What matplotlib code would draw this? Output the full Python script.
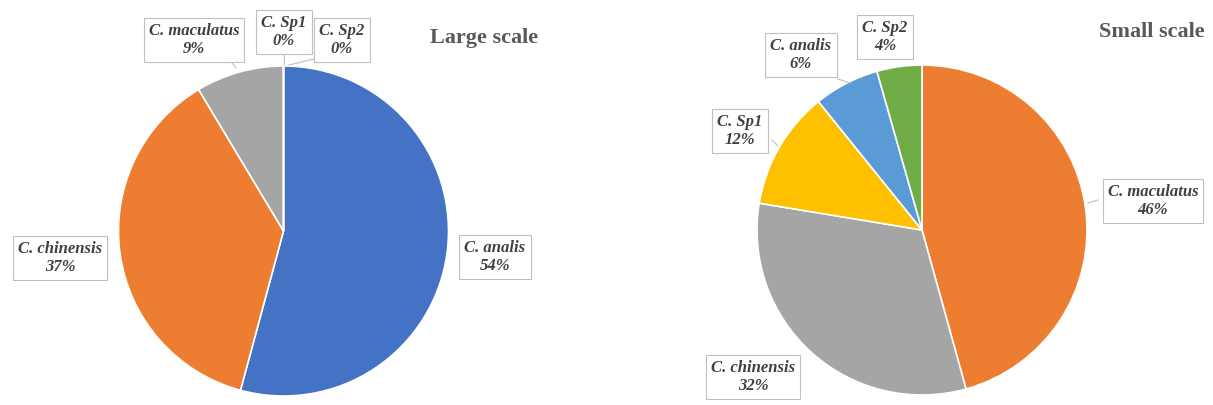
import matplotlib
matplotlib.use("Agg")
import matplotlib.pyplot as plt

# ---- data ----
large_labels = ["C. analis", "C. chinensis", "C. maculatus", "C. Sp1", "C. Sp2"]
large_values = [54.2, 37.2, 8.6, 0.0, 0.0]
large_colors = ["#4472C4", "#ED7D31", "#A5A5A5", "#FFC000", "#5B9BD5"]

small_labels = ["C. maculatus", "C. chinensis", "C. Sp1", "C. analis", "C. Sp2"]
small_values = [45.7, 31.9, 11.6, 6.4, 4.4]
small_colors = ["#ED7D31", "#A5A5A5", "#FFC000", "#5B9BD5", "#70AD47"]

titles = ["Large scale", "Small scale"]

W, H = 1213, 405
fig = plt.figure(figsize=(W / 100, H / 100), dpi=100)
ax = fig.add_axes([0, 0, 1, 1])

def Y(y):
    return H - y

# layout (pixel positions)
large_center = (283.5, 231)
small_center = (922, 230)
radius = 165
large_label_pos = [(495, 257), (60, 258), (194, 40), (284, 32), (342, 40)]
small_label_pos = [(1153, 201), (753, 377), (740, 131), (801, 55), (885, 37)]
large_leaders = [None, None, ((232, 63), (236, 68)), ((284, 53), (284, 64)), ((318, 58), (289, 65))]
small_leaders = [((1098, 200), (1088, 203)), None, ((772, 140), (778, 146)), ((838, 79), (850, 83)), None]
title_pos = [(484, 38), (1152, 32)]

text_kw = dict(family="Liberation Serif", style="italic", weight="bold",
               fontsize=12, color="#404040", ha="center", va="center",
               linespacing=1.2)
box_kw = dict(boxstyle="square,pad=0.3", fc="white", ec="#BFBFBF", lw=0.8)

def draw(values, labels, colors, center, label_pos, leaders):
    ax.pie(values, colors=colors, startangle=90, counterclock=False,
           center=(center[0], Y(center[1])), radius=radius,
           wedgeprops=dict(edgecolor="white", linewidth=1.2))
    for v, lab, pos, ld in zip(values, labels, label_pos, leaders):
        if ld is not None:
            ax.plot([ld[0][0], ld[1][0]], [Y(ld[0][1]), Y(ld[1][1])],
                    color="#BFBFBF", lw=0.8, zorder=1)
        ax.text(pos[0], Y(pos[1]), f"{lab}\n{round(v)}%", bbox=box_kw,
                zorder=5, **text_kw)

draw(large_values, large_labels, large_colors, large_center, large_label_pos, large_leaders)
draw(small_values, small_labels, small_colors, small_center, small_label_pos, small_leaders)

for t, p in zip(titles, title_pos):
    ax.text(p[0], Y(p[1]), t, family="Liberation Serif", weight="bold",
            fontsize=16, color="#595959", ha="center", va="center")

ax.set_xlim(0, W)
ax.set_ylim(0, H)
ax.set_aspect("equal")
ax.set_axis_off()

fig.savefig("out.png", dpi=100, facecolor="white")
